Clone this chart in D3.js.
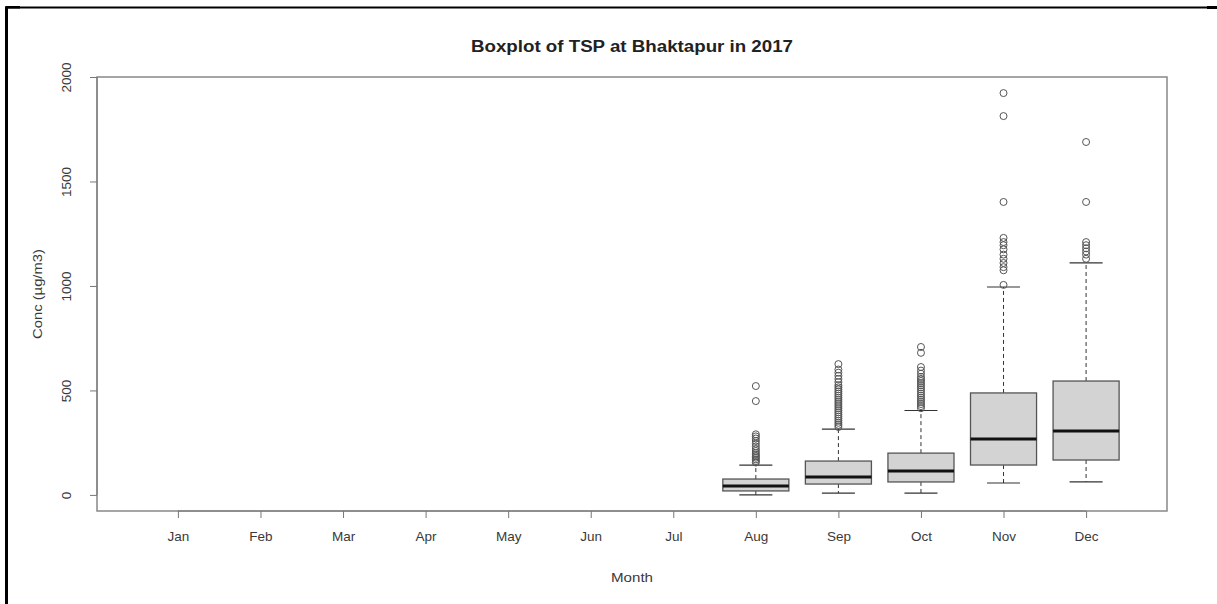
<!DOCTYPE html>
<html>
<head>
<meta charset="utf-8">
<script src="https://cdn.jsdelivr.net/npm/d3@7/dist/d3.min.js"></script>
<style>
  html, body { margin: 0; padding: 0; background: #fff; }
  svg { display: block; font-family: "Liberation Sans", Arial, sans-serif; }
</style>
</head>
<body>
<svg id="chart" width="1217" height="604"></svg>
<script>
// ---- data ----
const months = ["Jan","Feb","Mar","Apr","May","Jun","Jul","Aug","Sep","Oct","Nov","Dec"];
const boxMonths = ["Aug","Sep","Oct","Nov","Dec"];
const whiskerLow  = [0, 9, 9, 57, 62];
const q1          = [19, 52, 62, 143, 167];
const median      = [43, 86, 114, 268, 306];
const q3          = [76, 162, 200, 488, 545];
const whiskerHigh = [143, 315, 404, 995, 1110];
const outliersAug = [155,162,170,178,185,192,200,210,220,232,245,258,270,280,290,449,521];
const outliersSep = [325,335,345,355,365,375,385,395,405,415,425,435,445,455,465,475,485,495,505,515,525,540,555,570,585,600,626];
const outliersOct = [415,425,435,445,455,465,475,485,495,505,515,525,535,545,555,565,580,595,612,680,708];
const outliersNov = [1005,1075,1090,1110,1130,1150,1175,1195,1210,1230,1402,1813,1923];
const outliersDec = [1130,1150,1165,1180,1195,1210,1402,1689];
const outliers = [outliersAug, outliersSep, outliersOct, outliersNov, outliersDec];
const yTicks = [0, 500, 1000, 1500, 2000];
const titleText = "Boxplot of TSP at Bhaktapur in 2017";
const xLabel = "Month";
const yLabel = "Conc (\u00b5g/m3)";

// ---- layout ----
const svg = d3.select("#chart");
const L = 97, R = 1167, T = 77, B = 511;
const FONT = "Liberation Sans, Arial, sans-serif";
const TXT = "#3a3a3a";

const x = d3.scaleLinear().domain([0.02, 12.98]).range([L, R]);
const y = d3.scaleLinear().domain([-77, 2000]).range([B, T]);
const xm = m => x(months.indexOf(m) + 1);
const unit = x(1) - x(0);
const boxW = unit * 0.8;
const capW = boxW * 0.5;

// outer frame
svg.append("line").attr("x1", 5).attr("x2", 1217).attr("y1", 7.5).attr("y2", 7.5)
  .attr("stroke", "#000").attr("stroke-width", 2);
svg.append("line").attr("x1", 6.5).attr("x2", 6.5).attr("y1", 6.5).attr("y2", 604)
  .attr("stroke", "#000").attr("stroke-width", 3);
svg.append("rect").attr("x", 1207).attr("y", 6).attr("width", 10).attr("height", 3).attr("fill", "#000");
svg.append("rect").attr("x", 6).attr("y", 6).attr("width", 14).attr("height", 2.5).attr("fill", "#000");

// title
svg.append("text").attr("x", (L + R) / 2).attr("y", 52)
  .attr("text-anchor", "middle").attr("font-weight", "bold").attr("font-size", 16)
  .attr("textLength", 322).attr("lengthAdjust", "spacingAndGlyphs")
  .attr("fill", "#222").text(titleText);

// boxes
const g = svg.append("g");
boxMonths.forEach((m, i) => {
  const cx = xm(m);
  const dash = "4,3";
  g.append("line").attr("x1", cx).attr("x2", cx).attr("y1", y(q3[i])).attr("y2", y(whiskerHigh[i]))
    .attr("stroke", "#333").attr("stroke-width", 1).attr("stroke-dasharray", dash);
  g.append("line").attr("x1", cx).attr("x2", cx).attr("y1", y(q1[i])).attr("y2", y(whiskerLow[i]))
    .attr("stroke", "#333").attr("stroke-width", 1).attr("stroke-dasharray", dash);
  [whiskerHigh[i], whiskerLow[i]].forEach(v => {
    g.append("line").attr("x1", cx - capW / 2).attr("x2", cx + capW / 2).attr("y1", y(v)).attr("y2", y(v))
      .attr("stroke", "#333").attr("stroke-width", 1.2);
  });
  g.append("rect").attr("x", cx - boxW / 2).attr("width", boxW)
    .attr("y", y(q3[i])).attr("height", y(q1[i]) - y(q3[i]))
    .attr("fill", "#d3d3d3").attr("stroke", "#555").attr("stroke-width", 1.3);
  g.append("line").attr("x1", cx - boxW / 2).attr("x2", cx + boxW / 2).attr("y1", y(median[i])).attr("y2", y(median[i]))
    .attr("stroke", "#111").attr("stroke-width", 3);
  outliers[i].forEach(v => {
    g.append("circle").attr("cx", cx).attr("cy", y(v)).attr("r", 3.5)
      .attr("fill", "none").attr("stroke", "#555").attr("stroke-width", 1);
  });
});

// plot box
svg.append("rect").attr("x", L).attr("y", T).attr("width", R - L).attr("height", B - T)
  .attr("fill", "none").attr("stroke", "#888").attr("stroke-width", 1.5);

// x axis
const xAxis = svg.append("g").attr("transform", `translate(0,${B})`)
  .call(d3.axisBottom(x).tickValues(d3.range(1, 13)).tickFormat(d => months[d - 1]).tickSize(7).tickSizeOuter(0).tickPadding(13));
xAxis.select(".domain").attr("stroke", "#777").attr("d", `M${x(1)},0H${x(12)}`);
xAxis.selectAll(".tick line").attr("stroke", "#777");
xAxis.selectAll(".tick text").attr("font-size", 13.5).attr("fill", TXT).attr("font-family", FONT);

// y axis
const yAxis = svg.append("g").attr("transform", `translate(${L},0)`)
  .call(d3.axisLeft(y).tickValues(yTicks).tickFormat(d3.format("d")).tickSize(7).tickSizeOuter(0));
yAxis.select(".domain").attr("stroke", "#777").attr("d", `M0,${y(0)}V${y(2000)}`);
yAxis.selectAll(".tick line").attr("stroke", "#777");
yAxis.selectAll(".tick text").attr("x", 0).attr("dy", 0)
  .attr("transform", "translate(-26,0) rotate(-90)").attr("text-anchor", "middle")
  .attr("font-size", 13.5).attr("fill", TXT).attr("font-family", FONT);

// axis labels
svg.append("text").attr("x", (L + R) / 2).attr("y", 582).attr("text-anchor", "middle")
  .attr("font-size", 13.5).attr("textLength", 42).attr("lengthAdjust", "spacingAndGlyphs")
  .attr("fill", TXT).text(xLabel);
svg.append("text").attr("transform", `translate(42,${(T + B) / 2}) rotate(-90)`).attr("text-anchor", "middle")
  .attr("font-size", 13.5).attr("textLength", 90).attr("lengthAdjust", "spacingAndGlyphs")
  .attr("fill", TXT).text(yLabel);
</script>
</body>
</html>
